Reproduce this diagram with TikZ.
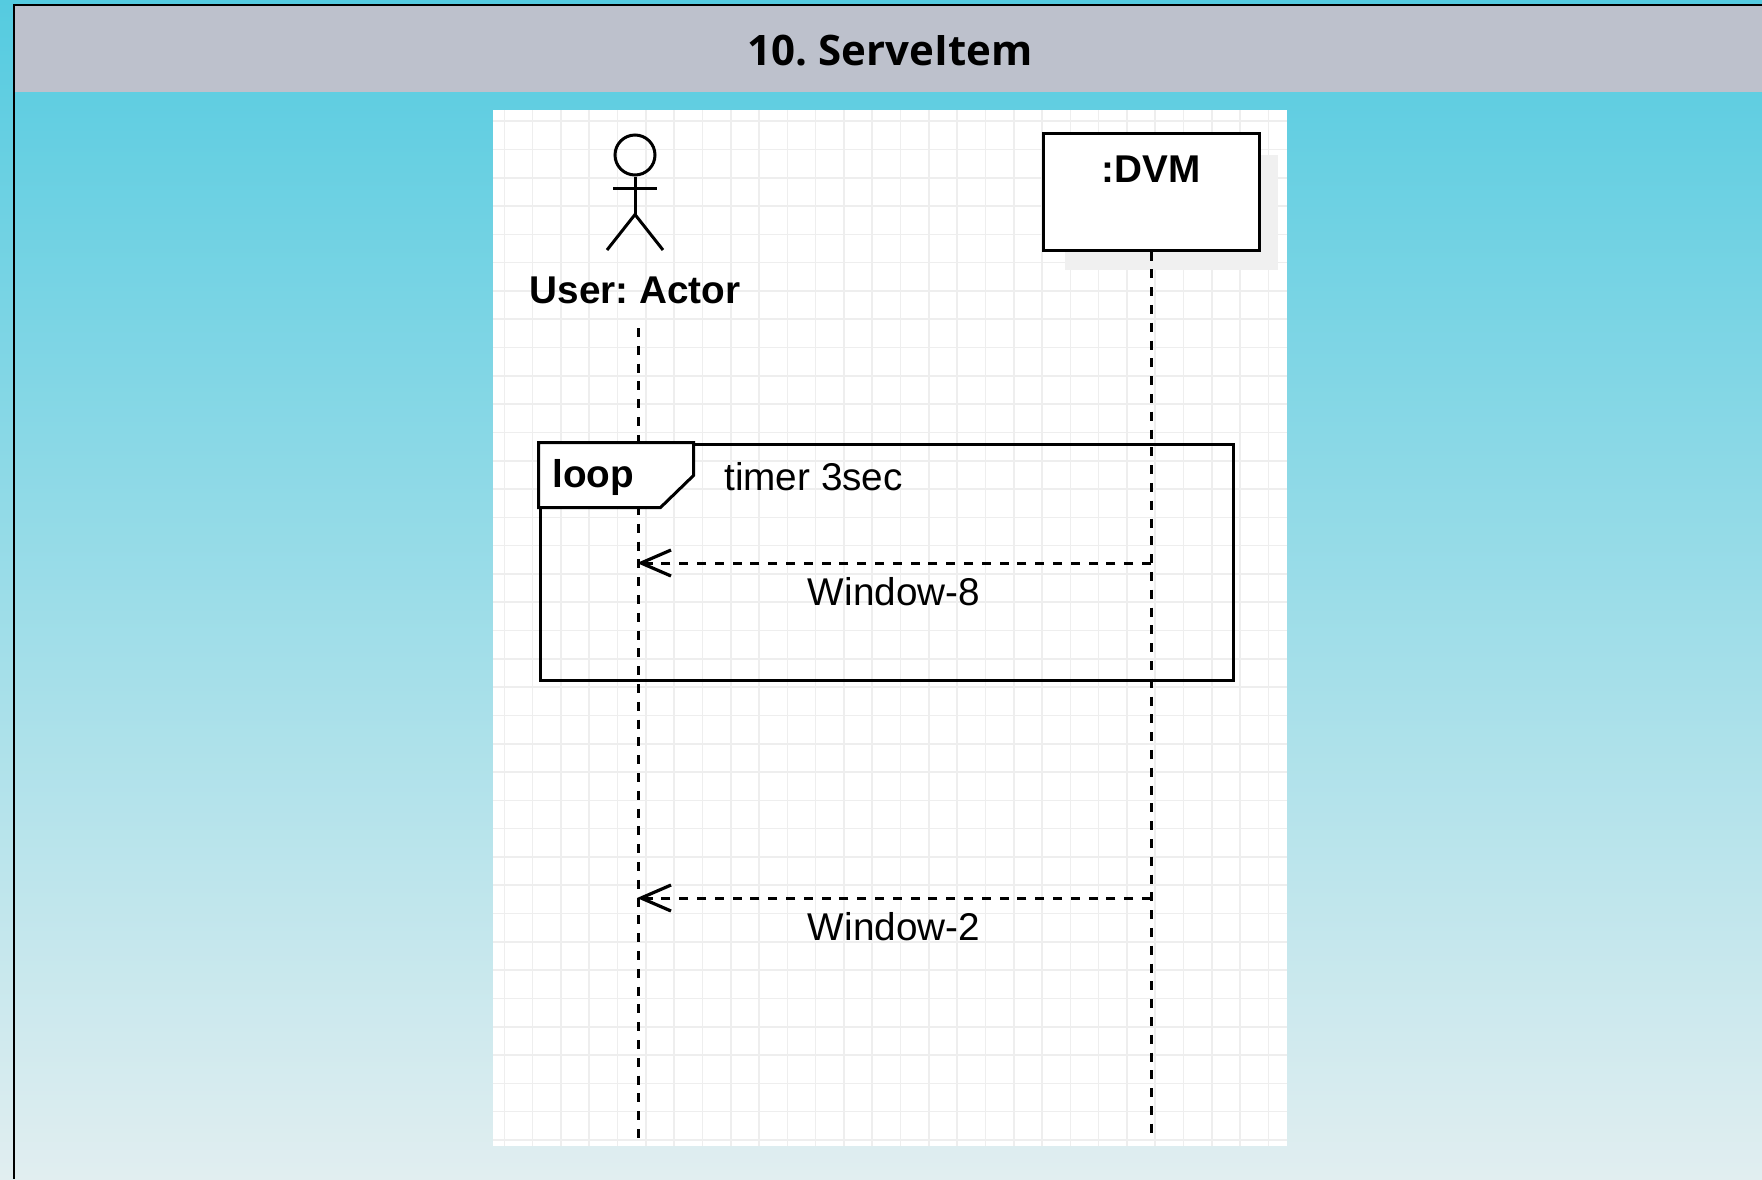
\documentclass[tikz,border=0pt]{standalone}
\usepackage{fontspec}
\setmainfont{Liberation Sans}
\newfontfamily\titlefont{Open Sans}
\usetikzlibrary{positioning}
\usetikzlibrary{arrows.meta}
\definecolor{headgray}{HTML}{BDC1CC}
\definecolor{topcyan}{HTML}{55CBE0}
\definecolor{botcyan}{HTML}{E1EEF0}
\definecolor{gridgray}{HTML}{EEEEEE}
\definecolor{shadowgray}{HTML}{F0F0F0}
\tikzset{
    lbl/.style = {inner sep=0pt, anchor=base, font=\fontsize{19.35}{23}\selectfont},
    lblb/.style = {inner sep=0pt, anchor=base, font=\bfseries\fontsize{19.35}{23}\selectfont},
    lifebox/.style = {rectangle, line width=1.5pt, draw=black, fill=white, minimum width=108pt, minimum height=58.5pt, inner sep=0pt},
    loopbox/.style = {rectangle, line width=1.5pt, draw=black, minimum width=346.5pt, minimum height=118pt, inner sep=0pt},
    headnode/.style = {circle, line width=1.5pt, draw=black, minimum size=20pt, inner sep=0pt},
    stick/.style = {line width=1.5pt},
    lifeline/.style = {line width=1.5pt, dash pattern=on 4.5pt off 4.4pt},
    msgr/.style = {lifeline, -{Straight Barb[length=15pt,width=13pt,line width=1.6pt]}}, % reply
    gridl/.style = {line width=0.8pt, draw=gridgray}
}

\begin{document}
\frenchspacing
\begin{tikzpicture}[x=0.5pt, y=-0.5pt]
	\useasboundingbox (0,0) rectangle (1762,1179);
	\shade[top color=topcyan, bottom color=botcyan] (0,0) rectangle (1762,1179);

	% header
	\fill[headgray] (14,5) rectangle (1762,92);
	\draw[line width=1.2pt] (1762,5) -- (14,5) -- (14,1179);
	\node[anchor=base, inner sep=0pt, font=\titlefont\bfseries\fontsize{21}{25}\selectfont] (title) at (890,65) {10. ServeItem};

	% sheet
	\fill[white] (493,110) rectangle (1287,1146);
	\begin{scope}
		\clip (493,110) rectangle (1287,1146);
		\foreach \gx in {0,...,28} \draw[gridl] (504.3+28.3*\gx,110) -- (504.3+28.3*\gx,1146);
		\foreach \gy in {0,...,36} \draw[gridl] (493,121.1+28.3*\gy) -- (1287,121.1+28.3*\gy);
	\end{scope}

	% actor
	\node[headnode] (head) at (635,155) {};
	\draw[stick] (head.south) -- ++(0,38) coordinate (hip);
	\draw[stick] (613,188) -- (657,188);
	\draw[stick] (607,250) -- (hip) -- (663,250);
	\node[lblb] (user) at (635,303) {User: Actor};

	% dvm
	\fill[shadowgray] (1065,155) rectangle (1278,270);
	\node[lifebox] (dvm) at (1151,191.5) {};
	\node[lblb] (dvmt) at (1151,182) {:DVM};

	% lifelines
	\coordinate (ut) at (638,328);
	\coordinate (ub) at (638,1144);
	\coordinate (db) at (1151,1141);
	\draw[lifeline] (ut) -- (ub);
	\draw[lifeline] (dvm.south) -- (db);

	% loop
	\node[loopbox] (loop) at (886.5,562) {};
	\draw[stick, fill=white] (loop.north west) -- ++(155,0) -- ++(0,33) -- ++(-33,32) -- ++(-122,0) -- cycle;
	\node[lblb, anchor=base west] (looptag) at (552,487) {loop};
	\node[lbl, anchor=base west] (guard) at (724,490) {timer 3sec};

	% messages
	\coordinate (d1) at (1151,563);
	\coordinate (u1) at (637,563);
	\coordinate (d2) at (1151,898);
	\coordinate (u2) at (637,898);
	\draw[msgr] (d1) -- node[lbl, yshift=-21pt] (w8) {Window-8} (u1);
	\draw[msgr] (d2) -- node[lbl, yshift=-21pt] (w2) {Window-2} (u2);

\end{tikzpicture}
\end{document}
